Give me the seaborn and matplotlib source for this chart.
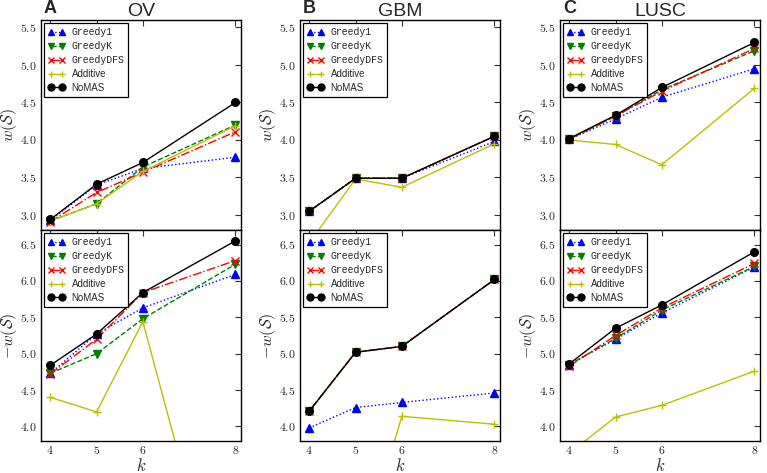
import matplotlib
matplotlib.use('Agg')
import matplotlib.pyplot as plt
from matplotlib.lines import Line2D
import seaborn as sns
from matplotlib.ticker import FuncFormatter

k = [4, 5, 6, 8]
methods = ['Greedy1', 'GreedyK', 'GreedyDFS', 'Additive', 'NoMAS']

# rows follow the order of `methods`
ov_w = [[2.93, 3.40, 3.62, 3.77],
        [2.92, 3.15, 3.64, 4.20],
        [2.91, 3.30, 3.57, 4.11],
        [2.92, 3.15, 3.58, 4.19],
        [2.94, 3.41, 3.70, 4.50]]
ov_negw = [[4.73, 5.27, 5.63, 6.09],
           [4.73, 5.00, 5.48, 6.23],
           [4.72, 5.20, 5.84, 6.28],
           [4.40, 4.20, 5.44, 0.70],
           [4.84, 5.27, 5.84, 6.55]]
gbm_w = [[3.05, 3.49, 3.49, 3.98],
         [3.05, 3.49, 3.49, 4.05],
         [3.05, 3.49, 3.49, 4.05],
         [2.63, 3.48, 3.37, 3.95],
         [3.05, 3.49, 3.49, 4.05]]
gbm_negw = [[3.98, 4.26, 4.33, 4.46],
            [4.21, 5.02, 5.10, 6.02],
            [4.21, 5.02, 5.10, 6.02],
            [2.00, 2.00, 4.14, 4.03],
            [4.21, 5.02, 5.10, 6.02]]
lusc_w = [[4.01, 4.28, 4.57, 4.95],
          [4.01, 4.32, 4.67, 5.19],
          [4.01, 4.32, 4.65, 5.22],
          [4.00, 3.94, 3.67, 4.69],
          [4.02, 4.33, 4.70, 5.30]]
lusc_negw = [[4.85, 5.20, 5.56, 6.19],
             [4.85, 5.21, 5.60, 6.20],
             [4.83, 5.25, 5.63, 6.24],
             [3.63, 4.13, 4.29, 4.76],
             [4.86, 5.35, 5.67, 6.40]]

titles = ['OV', 'GBM', 'LUSC']
letters = ['A', 'B', 'C']

styles = [('blue', '^', ':'),
          ('green', 'v', '--'),
          ('red', 'x', '-.'),
          ((0.75, 0.75, 0), '+', '-'),
          ('black', 'o', '-')]

sns.set_style('white')
plt.rcParams['font.family'] = ['Liberation Sans', 'DejaVu Sans']
plt.rcParams['mathtext.fontset'] = 'cm'

fig = plt.figure(figsize=(7.67, 4.73), dpi=100)
W, H = 767.0, 473.0
lefts = [41, 300, 560]
fmt = FuncFormatter(lambda v, p: r'$%.1f$' % v)


def draw(ax, data, ylim, yticks):
    handles = []
    for name, vals, (c, m, ls) in zip(methods, data, styles):
        sns.lineplot(x=k, y=vals, ax=ax, color=c, marker=m, linestyle=ls,
                     lw=1, markersize=5.5, markeredgecolor=c, markeredgewidth=1,
                     sort=False)
        handles.append(Line2D([], [], color=c, marker=m, linestyle=ls, lw=1,
                              markersize=5, markeredgecolor=c,
                              markeredgewidth=1, label=name))
    ax.set_xlim(3.8, 8.12)
    ax.set_ylim(*ylim)
    ax.set_xticks(k)
    ax.set_yticks(yticks)
    ax.yaxis.set_major_formatter(fmt)
    ax.tick_params(direction='in', top=True, right=True, length=4,
                   labelsize=8.5, color='#333333', pad=3)
    for s in ax.spines.values():
        s.set_color('black')
        s.set_linewidth(1)
    leg = ax.legend(handles=handles, loc='upper left', fontsize=7,
                    fancybox=False, edgecolor='black', framealpha=1,
                    numpoints=2, handlelength=1.7, borderaxespad=0.35,
                    labelspacing=0.4, handletextpad=0.7)
    leg.get_frame().set_linewidth(0.9)
    for t in leg.get_texts():
        if t.get_text().startswith('Greedy'):
            t.set_fontfamily('Liberation Mono')


panels = [(ov_w, ov_negw), (gbm_w, gbm_negw), (lusc_w, lusc_negw)]
for i, (top, bottom) in enumerate(panels):
    x0 = lefts[i] / W
    ax1 = fig.add_axes([x0, 1 - 230 / H, 200 / W, 210 / H])
    ax2 = fig.add_axes([x0, 1 - 441 / H, 200 / W, 211 / H])
    draw(ax1, top, (2.8, 5.6), [3.0, 3.5, 4.0, 4.5, 5.0, 5.5])
    draw(ax2, bottom, (3.8, 6.7), [4.0, 4.5, 5.0, 5.5, 6.0, 6.5])
    ax1.set_xticklabels([])
    ax1.set_title(titles[i], fontsize=14, pad=3)
    ax2.set_xticklabels([r'$%d$' % v for v in k])
    ax2.set_xlabel(r'$k$', fontsize=12, labelpad=0)
    ax1.set_ylabel(r'$w(\mathcal{S})$', fontsize=11.5, labelpad=1)
    ax2.set_ylabel(r'$-w(\mathcal{S})$', fontsize=11.5, labelpad=1)
    fig.text(x0 + 3 / W, 1 - 13 / H, letters[i], fontsize=13,
             fontweight='bold', va='baseline')

fig.savefig('out.png', dpi=100)
